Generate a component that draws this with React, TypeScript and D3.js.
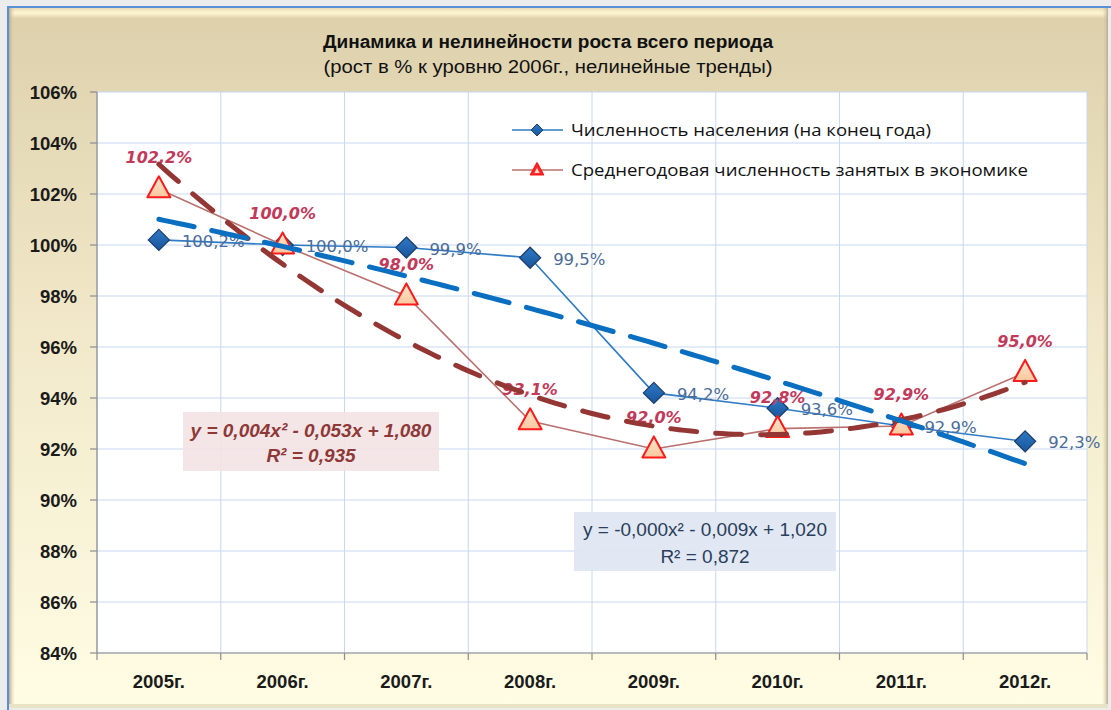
import React from "react";
import * as d3 from "d3";

const years = ["2005г.", "2006г.", "2007г.", "2008г.", "2009г.", "2010г.", "2011г.", "2012г."];
const population = [100.2, 100.0, 99.9, 99.5, 94.2, 93.6, 92.9, 92.3];
const employment = [102.2, 100.0, 98.0, 93.1, 92.0, 92.8, 92.9, 95.0];
const yTicks = [84, 86, 88, 90, 92, 94, 96, 98, 100, 102, 104, 106];

const titleLine1 = "Динамика и нелинейности роста всего периода";
const titleLine2 = "(рост  в % к уровню 2006г., нелинейные тренды)";
const legendPop = "Численность населения (на конец года)";
const legendEmp = "Среднегодовая численность занятых в экономике";
const eqEmp = ["y = 0,004x² - 0,053x + 1,080", "R² = 0,935"];
const eqPop = ["y = -0,000x² - 0,009x + 1,020", "R² = 0,872"];

const W = 1111;
const H = 710;
const plot = { left: 97, right: 1087, top: 92, bottom: 653 };

function quadFit(ys: number[]) {
  const xs = ys.map((_, i) => i + 1);
  const S = [0, 0, 0, 0, 0];
  const T = [0, 0, 0];
  xs.forEach((x, i) => {
    for (let k = 0; k < 5; k++) S[k] += Math.pow(x, k);
    for (let k = 0; k < 3; k++) T[k] += Math.pow(x, k) * ys[i];
  });
  const M = [
    [S[4], S[3], S[2], T[2]],
    [S[3], S[2], S[1], T[1]],
    [S[2], S[1], S[0], T[0]],
  ];
  for (let i = 0; i < 3; i++) {
    let p = i;
    for (let r = i + 1; r < 3; r++) if (Math.abs(M[r][i]) > Math.abs(M[p][i])) p = r;
    [M[i], M[p]] = [M[p], M[i]];
    for (let r = 0; r < 3; r++) {
      if (r === i) continue;
      const f = M[r][i] / M[i][i];
      for (let c = i; c < 4; c++) M[r][c] -= f * M[i][c];
    }
  }
  const a = M[0][3] / M[0][0];
  const b = M[1][3] / M[1][1];
  const c = M[2][3] / M[2][2];
  return (x: number) => a * x * x + b * x + c;
}

const fmt = (v: number) => v.toFixed(1).replace(".", ",") + "%";

export default function App() {
  const x = d3.scaleBand<string>().domain(years).range([plot.left, plot.right]).padding(0);
  const cx = (i: number) => (x(years[i]) as number) + x.bandwidth() / 2;
  const y = d3.scaleLinear().domain([84, 106]).range([plot.bottom, plot.top]);
  const xt = d3.scaleLinear().domain([1, years.length]).range([cx(0), cx(years.length - 1)]);

  const line = d3
    .line<number>()
    .x((_, i) => cx(i))
    .y((d) => y(d));

  const trendPath = (ys: number[]) => {
    const f = quadFit(ys);
    const pts = d3.range(0, 141).map((k) => 1 + (k * (ys.length - 1)) / 140);
    return d3
      .line<number>()
      .x((t) => xt(t))
      .y((t) => y(f(t)))(pts) as string;
  };

  const diamond = (px: number, py: number, r: number) =>
    `M${px},${py - r}L${px + r},${py}L${px},${py + r}L${px - r},${py}Z`;
  const triangle = (px: number, py: number, w: number, h: number) =>
    `M${px},${py - h * 0.6}L${px + w / 2},${py + h * 0.4}L${px - w / 2},${py + h * 0.4}Z`;

  const boundaries = d3.range(years.length + 1).map((i) =>
    i < years.length ? (x(years[i]) as number) : plot.right
  );

  const axisFont = "'Liberation Sans', Arial, sans-serif";

  return (
    <svg
      width={W}
      height={H}
      style={{ position: "absolute", left: 0, top: 0, display: "block" }}
    >
      <defs>
        <linearGradient id="bg" x1="0" y1="0" x2="0" y2="1">
          <stop offset="0" stopColor="#ddd0ab" />
          <stop offset="0.45" stopColor="#f1e8c9" />
          <stop offset="1" stopColor="#fffde4" />
        </linearGradient>
        <linearGradient id="topHi" x1="0" y1="0" x2="0" y2="1">
          <stop offset="0" stopColor="#e9dcb6" />
          <stop offset="0.5" stopColor="#fff6d2" />
          <stop offset="1" stopColor="#e2d4ae" />
        </linearGradient>
        <linearGradient id="leftSh" x1="0" y1="0" x2="1" y2="0">
          <stop offset="0" stopColor="#b9ad8e" />
          <stop offset="1" stopColor="#e8dcb8" stopOpacity="0" />
        </linearGradient>
        <linearGradient id="rightSh" x1="1" y1="0" x2="0" y2="0">
          <stop offset="0" stopColor="#b8ac90" />
          <stop offset="1" stopColor="#e8dcb8" stopOpacity="0" />
        </linearGradient>
        <linearGradient id="diaFill" x1="0" y1="0" x2="0" y2="1">
          <stop offset="0" stopColor="#2f78c4" />
          <stop offset="1" stopColor="#17569c" />
        </linearGradient>
        <linearGradient id="triFill" x1="0" y1="0" x2="0" y2="1">
          <stop offset="0" stopColor="#fde6cf" />
          <stop offset="1" stopColor="#f9c89e" />
        </linearGradient>
      </defs>

      {/* page + frame */}
      <rect x={0} y={0} width={W} height={H} fill="#ececec" />
      <rect x={9} y={8} width={1099} height={700} fill="url(#bg)" />
      <rect x={9} y={8} width={1099} height={10} fill="url(#topHi)" />
      <rect x={9} y={8} width={6} height={700} fill="url(#leftSh)" />
      <rect x={1102} y={8} width={6} height={700} fill="url(#rightSh)" />
      <rect x={9} y={704} width={1099} height={4} fill="#e9e3c6" />
      <line x1={7} y1={7} x2={W} y2={7} stroke="#5b8fd8" strokeWidth={2} />
      <line x1={8} y1={6} x2={8} y2={H} stroke="#5b8fd8" strokeWidth={2} />

      {/* title */}
      <text
        x={548}
        y={48}
        textAnchor="middle"
        fontFamily={axisFont}
        fontWeight="bold"
        fontSize={17.5}
        fill="#111"
        textLength={450}
        lengthAdjust="spacingAndGlyphs"
      >
        {titleLine1}
      </text>
      <text
        x={548}
        y={73}
        textAnchor="middle"
        fontFamily={axisFont}
        fontSize={17.5}
        fill="#111"
        textLength={449}
        lengthAdjust="spacingAndGlyphs"
      >
        {titleLine2}
      </text>

      {/* plot area */}
      <rect
        x={plot.left}
        y={plot.top}
        width={plot.right - plot.left}
        height={plot.bottom - plot.top}
        fill="#ffffff"
      />
      {yTicks.map((t) => (
        <line
          key={"gy" + t}
          x1={plot.left}
          x2={plot.right}
          y1={y(t)}
          y2={y(t)}
          stroke="#c7d8f0"
          strokeWidth={1}
        />
      ))}
      {boundaries.map((bx, i) => (
        <line
          key={"gx" + i}
          x1={bx}
          x2={bx}
          y1={plot.top}
          y2={plot.bottom}
          stroke="#c7d8f0"
          strokeWidth={1}
        />
      ))}
      {/* axes */}
      <line x1={plot.left} x2={plot.left} y1={plot.top} y2={plot.bottom} stroke="#8c8c8c" strokeWidth={1.2} />
      <line x1={plot.left} x2={plot.right} y1={plot.bottom} y2={plot.bottom} stroke="#8c8c8c" strokeWidth={1.2} />
      {yTicks.map((t) => (
        <g key={"ty" + t}>
          <line x1={plot.left - 7} x2={plot.left} y1={y(t)} y2={y(t)} stroke="#8c8c8c" strokeWidth={1.2} />
          <text
            x={77}
            y={y(t) + 6.5}
            textAnchor="end"
            fontFamily={axisFont}
            fontWeight="bold"
            fontSize={18.5}
            fill="#1a1a1a"
          >
            {t}%
          </text>
        </g>
      ))}
      {boundaries.map((bx, i) => (
        <line key={"tx" + i} x1={bx} x2={bx} y1={plot.bottom} y2={plot.bottom + 7} stroke="#8c8c8c" strokeWidth={1.2} />
      ))}
      {years.map((yr, i) => (
        <text
          key={"xl" + yr}
          x={cx(i)}
          y={688}
          textAnchor="middle"
          fontFamily={axisFont}
          fontWeight="bold"
          fontSize={18.5}
          fill="#1a1a1a"
        >
          {yr}
        </text>
      ))}

      {/* population series */}
      <path d={line(population) as string} fill="none" stroke="#2f7bc4" strokeWidth={1.6} />
      {population.map((v, i) => (
        <path
          key={"pm" + i}
          d={diamond(cx(i), y(v), 10.5)}
          fill="url(#diaFill)"
          stroke="#1d3f6b"
          strokeWidth={1.3}
        />
      ))}
      {population.map((v, i) => (
        <text
          key={"pl" + i}
          x={cx(i) + 23}
          y={y(v) + 7}
          fontFamily="'DejaVu Sans', sans-serif"
          fontSize={16.5}
          fill="#4b6c99"
        >
          {fmt(v)}
        </text>
      ))}

      {/* employment series */}
      <path d={line(employment) as string} fill="none" stroke="#b8716f" strokeWidth={1.6} />
      {employment.map((v, i) => (
        <path
          key={"em" + i}
          d={triangle(cx(i), y(v), 23, 21)}
          fill="url(#triFill)"
          stroke="#ff1a1a"
          strokeWidth={2}
          strokeLinejoin="round"
        />
      ))}
      {employment.map((v, i) => (
        <text
          key={"el" + i}
          x={cx(i)}
          y={y(v) - 26}
          textAnchor="middle"
          fontFamily="'DejaVu Sans', sans-serif"
          fontWeight="bold"
          fontStyle="italic"
          fontSize={16}
          fill="#c23a5a"
        >
          {fmt(v)}
        </text>
      ))}

      {/* trend lines */}
      <path
        d={trendPath(employment)}
        fill="none"
        stroke="#943634"
        strokeWidth={5}
        strokeDasharray="26,19"
        strokeLinecap="round"
      />
      <path
        d={trendPath(population)}
        fill="none"
        stroke="#0a6fc0"
        strokeWidth={5}
        strokeDasharray="36,18"
        strokeLinecap="round"
      />

      {/* equation boxes */}
      <rect x={183} y={412} width={256} height={59} fill="#f3e3e3" opacity={0.9} />
      <text x={311} y={437} textAnchor="middle" fontFamily={axisFont} fontWeight="bold" fontStyle="italic" fontSize={19} fill="#8e3838">
        {eqEmp[0]}
      </text>
      <text x={311} y={462} textAnchor="middle" fontFamily={axisFont} fontWeight="bold" fontStyle="italic" fontSize={19} fill="#8e3838">
        {eqEmp[1]}
      </text>
      <rect x={574} y={512} width={262} height={59} fill="#dfe7f2" opacity={0.95} />
      <text x={705} y={536} textAnchor="middle" fontFamily={axisFont} fontSize={19} fill="#2a3d5c">
        {eqPop[0]}
      </text>
      <text x={705} y={563} textAnchor="middle" fontFamily={axisFont} fontSize={19} fill="#2a3d5c">
        {eqPop[1]}
      </text>

      {/* legend */}
      <line x1={512} x2={563} y1={130} y2={130} stroke="#2f7bc4" strokeWidth={1.6} />
      <path d={diamond(537, 130, 6)} fill="url(#diaFill)" stroke="#1d3f6b" strokeWidth={1} />
      <text x={571} y={136} fontFamily="'Open Sans', sans-serif" fontSize={16.5} fill="#111" textLength={360} lengthAdjust="spacingAndGlyphs">
        {legendPop}
      </text>
      <line x1={512} x2={563} y1={170} y2={170} stroke="#b8716f" strokeWidth={1.6} />
      <path d={triangle(537, 170, 13, 12)} fill="#ff2a2a" stroke="#ff1a1a" strokeWidth={1.5} strokeLinejoin="round" />
      <path d={triangle(537, 171, 5, 5)} fill="#fde6cf" />
      <text x={571} y={176} fontFamily="'Open Sans', sans-serif" fontSize={16.5} fill="#111" textLength={457} lengthAdjust="spacingAndGlyphs">
        {legendEmp}
      </text>
    </svg>
  );
}
